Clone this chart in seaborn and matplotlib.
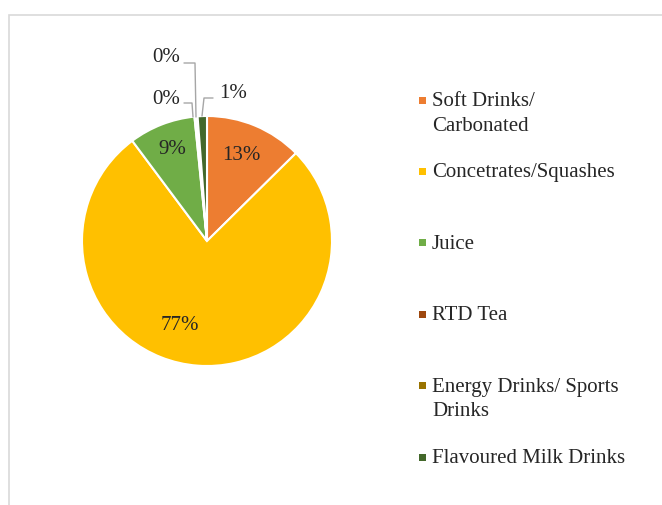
import matplotlib
matplotlib.use("Agg")
import matplotlib.pyplot as plt
import seaborn as sns
from matplotlib.patches import Rectangle

sns.set_theme(style="white")
plt.rcParams['font.family'] = ['Liberation Serif', 'DejaVu Serif']

categories = ["Soft Drinks/\nCarbonated", "Concetrates/Squashes", "Juice", "RTD Tea",
              "Energy Drinks/ Sports\nDrinks", "Flavoured Milk Drinks"]
shares = [12.6, 77.2, 8.6, 0.2, 0.2, 1.2]
colors = ["#ED7D31", "#FFC000", "#70AD47", "#9E480E", "#997300", "#43682B"]

W, H = 662, 505
fig = plt.figure(figsize=(W / 100, H / 100), dpi=100)
fig.patch.set_facecolor("white")

# chart area border (partly cropped)
fig.patches.append(Rectangle((9 / W, -0.1), 1.2, (H - 15) / H + 0.1, transform=fig.transFigure,
                             fill=False, edgecolor="#D9D9D9", linewidth=1.2))

cx, cy, r = 207, 241, 125
ax = fig.add_axes([(cx - r) / W, (H - cy - r) / H, 2 * r / W, 2 * r / H])

wedges, _ = ax.pie(shares, colors=colors, startangle=90, counterclock=False, radius=1,
                   wedgeprops=dict(edgecolor="white", linewidth=1.5))
ax.set_xlim(-1, 1)
ax.set_ylim(-1, 1)
ax.set_aspect("equal")
ax.axis("off")

def d(px, py):
    return (px - cx) / r, (cy - py) / r

labels = [f"{round(v):.0f}%" for v in shares]
fs = 15
inside = {0: (241, 155), 1: (180, 325), 2: (172, 150)}
for i, pos in inside.items():
    ax.text(*d(*pos), labels[i], ha="center", va="center", fontsize=fs, color="#262626")

outside = {3: (166, 99), 4: (166, 58), 5: (233, 93)}
for i, pos in outside.items():
    ax.text(*d(*pos), labels[i], ha="center", va="center", fontsize=fs, color="#262626",
            clip_on=False)

lc = "#A6A6A6"
leaders = {
    3: [(184, 103), (192, 103), (193, 117)],
    4: [(184, 63), (195, 63), (196, 117)],
    5: [(213, 98), (204, 98), (202, 116)],
}
for pts in leaders.values():
    xs, ys = zip(*[d(*p) for p in pts])
    ax.plot(xs, ys, color=lc, linewidth=1, clip_on=False)

# legend
for i, (lab, col) in enumerate(zip(categories, colors)):
    y = 100 + i * 71.4
    fig.patches.append(Rectangle(((422 - 3.5) / W, (H - y - 3.5) / H), 7 / W, 7 / H,
                                 transform=fig.transFigure, facecolor=col, edgecolor="none"))
    fig.text(432 / W, (H - y + 8) / H, lab, ha="left", va="top", fontsize=fs, color="#262626",
             linespacing=1.42, transform=fig.transFigure)

fig.savefig("out.png", dpi=100, facecolor="white")
